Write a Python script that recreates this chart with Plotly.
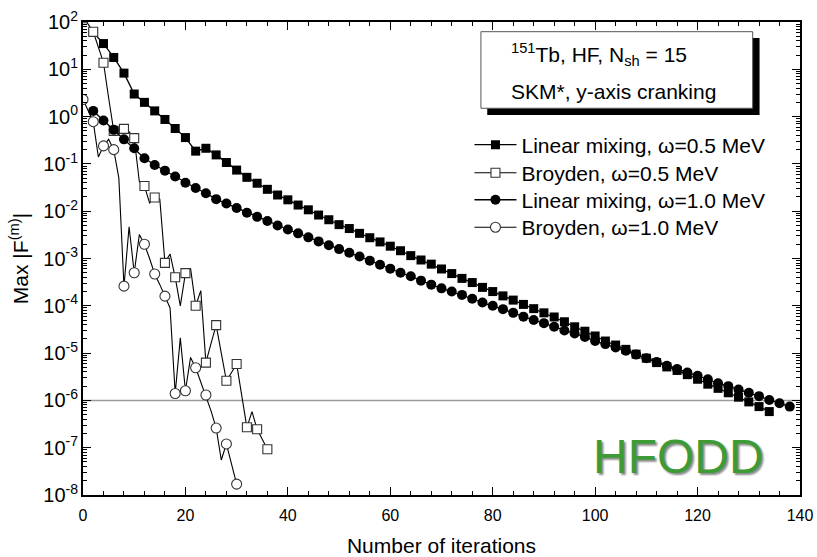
import plotly.graph_objects as go

# ---------------- data ----------------
lin05_iter = list(range(2, 135, 2))
lin05_val = [
    60, 35, 17.8, 8.3, 3.0, 2.0, 1.32, 0.87, 0.56, 0.36,
    0.186, 0.214, 0.155, 0.107, 0.074, 0.052, 0.039, 0.029, 0.022, 0.0174,
    0.0135, 0.0107, 0.0083, 0.0066, 0.0052, 0.0043, 0.0034, 0.00275, 0.00224, 0.00182,
    0.00146, 0.00115, 0.00093, 0.00076, 0.0006, 0.00048, 0.00038, 0.00031, 0.000245, 0.0002,
    0.000162, 0.000132, 0.000107, 8.7e-5, 7.1e-5, 5.8e-5, 4.6e-5, 3.6e-5, 2.9e-5, 2.3e-5,
    1.8e-5, 1.48e-5, 1.2e-5, 9.5e-6, 7.8e-6, 6.3e-6, 5.1e-6, 4.3e-6, 3.5e-6, 2.8e-6,
    2.2e-6, 1.8e-6, 1.45e-6, 1.17e-6, 9.3e-7, 7.4e-7, 5.8e-7,
]

lin10_iter = list(range(2, 139, 2))
lin10_val = [
    1.32, 0.83, 0.525, 0.33, 0.214, 0.132, 0.095, 0.072, 0.054, 0.040,
    0.031, 0.024, 0.018, 0.0145, 0.0117, 0.0093, 0.0076, 0.0062, 0.0050, 0.0041,
    0.0034, 0.0028, 0.0023, 0.0019, 0.00158, 0.00132, 0.0011, 0.0009, 0.00074, 0.00061,
    0.0005, 0.00042, 0.00034, 0.00028, 0.000234, 0.0002, 0.00017, 0.000141, 0.000117, 1.0e-4,
    8.5e-5, 7.1e-5, 5.9e-5, 5.0e-5, 4.3e-5, 3.6e-5, 3.0e-5, 2.6e-5, 2.2e-5, 1.8e-5,
    1.55e-5, 1.32e-5, 1.12e-5, 9.3e-6, 7.8e-6, 6.5e-6, 5.4e-6, 4.6e-6, 3.9e-6, 3.3e-6,
    2.8e-6, 2.3e-6, 2.0e-6, 1.7e-6, 1.45e-6, 1.23e-6, 1.02e-6, 8.7e-7, 7.4e-7,
]

broy05_iter = list(range(0, 37))
broy05_val = [
    120, 90, 62, 28, 13.8, 2.5, 0.5, 0.45, 0.55, 0.48,
    0.35, 0.042, 0.034, 0.015, 0.0195, 0.018, 8.1e-4, 1.25e-3, 4.0e-4, 1.0e-4,
    4.9e-4, 6.2e-4, 1.0e-4, 2.1e-4, 6.3e-6, 1.6e-5, 3.9e-5, 1.0e-5, 2.6e-6, 3.9e-6,
    5.9e-6, 1.26e-6, 2.7e-7, 5.8e-7, 2.45e-7, 1.5e-7, 9.3e-8,
]

broy10_iter = list(range(0, 31))
broy10_val = [
    2.3, 1.35, 0.78, 0.14, 0.24, 0.33, 0.20, 0.05, 2.6e-4, 4.7e-3,
    5.0e-4, 3.2e-3, 2.0e-3, 1.0e-3, 4.7e-4, 2.8e-4, 1.6e-4, 9e-5, 1.4e-6, 2.1e-5,
    1.6e-6, 8.1e-6, 4.9e-6, 2.5e-6, 1.3e-6, 6e-7, 2.6e-7, 5.5e-8, 1.2e-7, 4.5e-8,
    1.7e-8,
]

series_names = [
    "Linear mixing, \u03c9=0.5 MeV",
    "Broyden, \u03c9=0.5 MeV",
    "Linear mixing, \u03c9=1.0 MeV",
    "Broyden, \u03c9=1.0 MeV",
]

conv_threshold = 1e-6
y_exponents = [-8, -7, -6, -5, -4, -3, -2, -1, 0, 1, 2]

# ---------------- figure ----------------
FONT = "Liberation Sans, Arial, sans-serif"
fig = go.Figure()

# legend rows (one legend per row so the spacing can follow the reference)
legend_rows_y = [0.740, 0.6807, 0.6235, 0.5654]
legend_ids = ["legend", "legend2", "legend3", "legend4"]


def add_filled(it, val, sym, size, k):
    fig.add_trace(go.Scatter(
        x=it, y=val, mode="lines+markers", name=series_names[k],
        legend=legend_ids[k],
        line=dict(color="black", width=1.3),
        marker=dict(symbol=sym, size=size, color="black"),
    ))


def add_broyden(it, val, sym, size, k):
    fig.add_trace(go.Scatter(
        x=it, y=val, mode="lines", showlegend=False,
        line=dict(color="black", width=1.1),
    ))
    fig.add_trace(go.Scatter(
        x=it[::2], y=val[::2], mode="markers", showlegend=False,
        marker=dict(symbol=sym, size=size, color="white",
                    line=dict(color="#333333", width=1.1)),
    ))
    fig.add_trace(go.Scatter(
        x=[None], y=[None], mode="lines+markers", name=series_names[k],
        legend=legend_ids[k],
        line=dict(color="black", width=1.1),
        marker=dict(symbol=sym, size=size, color="white",
                    line=dict(color="#333333", width=1.1)),
    ))


add_filled(lin05_iter, lin05_val, "square", 9, 0)
add_broyden(broy05_iter, broy05_val, "square", 9, 1)
add_filled(lin10_iter, lin10_val, "circle", 10, 2)
add_broyden(broy10_iter, broy10_val, "circle", 10, 3)

# convergence threshold line
fig.add_shape(type="line", xref="x domain", yref="y", x0=0, x1=1,
              y0=conv_threshold, y1=conv_threshold,
              line=dict(color="#9a9a9a", width=1.5), layer="below")

# info box with drop shadow
fig.add_shape(type="rect", xref="paper", yref="paper",
              x0=0.5638, x1=0.9436, y0=0.8034, y1=0.9662,
              fillcolor="black", line=dict(width=0), layer="above")
fig.add_shape(type="rect", xref="paper", yref="paper",
              x0=0.555, x1=0.934, y0=0.8176, y1=0.9795,
              fillcolor="white", line=dict(color="#555555", width=1), layer="above")
fig.add_annotation(xref="paper", yref="paper", x=0.594, y=0.932,
                   xanchor="left", yanchor="middle", showarrow=False,
                   text="<sup>151</sup>Tb, HF, N<sub>sh</sub> = 15",
                   font=dict(family=FONT, size=21, color="black"))
fig.add_annotation(xref="paper", yref="paper", x=0.594, y=0.853,
                   xanchor="left", yanchor="middle", showarrow=False,
                   text="SKM*, y-axis cranking",
                   font=dict(family=FONT, size=21, color="black"))

# HFODD logo text
fig.add_annotation(xref="paper", yref="paper", x=0.830, y=0.081,
                   xanchor="center", yanchor="middle", showarrow=False,
                   text="HFODD",
                   font=dict(family=FONT, size=48, color="#3c9b35",
                             shadow="2px 2px 2px #8a8a8a"))

legend_common = dict(x=0.539, xanchor="left", yanchor="middle",
                     bgcolor="rgba(0,0,0,0)", borderwidth=0,
                     font=dict(family=FONT, size=21), itemwidth=42)

# y tick labels shown as 10^n for every decade
y_alias = {}
for e in y_exponents:
    if e == 0:
        key = "1"
    elif e == 1:
        key = "10"
    elif e < 0:
        key = "10<sup>\u2212%d</sup>" % (-e)
    else:
        key = "10<sup>%d</sup>" % e
    y_alias[key] = "10<sup>%d</sup>" % e

fig.update_layout(
    width=817, height=557,
    margin=dict(l=82.5, r=17, t=22, b=62, autoexpand=False),
    paper_bgcolor="white", plot_bgcolor="white",
    font=dict(family=FONT, color="black"),
    showlegend=True,
    legend=dict(y=legend_rows_y[0], **legend_common),
    legend2=dict(y=legend_rows_y[1], **legend_common),
    legend3=dict(y=legend_rows_y[2], **legend_common),
    legend4=dict(y=legend_rows_y[3], **legend_common),
    xaxis=dict(
        range=[0, 140], tickmode="linear", tick0=0, dtick=20,
        ticks="inside", ticklen=8, tickwidth=1.3, tickcolor="black",
        minor=dict(tickmode="linear", tick0=0, dtick=4, ticks="inside",
                   ticklen=4, tickwidth=1, tickcolor="black"),
        showline=True, linecolor="black", linewidth=1.5, mirror="ticks",
        showgrid=False, zeroline=False, ticklabelstandoff=5, automargin=False,
        tickfont=dict(family=FONT, size=16),
        title=dict(text="Number of iterations", font=dict(family=FONT, size=21),
                   standoff=16),
    ),
    yaxis=dict(
        type="log", range=[-8, 2], tickmode="linear", tick0=0, dtick=1,
        exponentformat="power", labelalias=y_alias, automargin=False,
        ticks="inside", ticklen=8, tickwidth=1.3, tickcolor="black",
        minor=dict(tickmode="linear", dtick="D1", ticks="inside",
                   ticklen=4, tickwidth=1, tickcolor="black"),
        showline=True, linecolor="black", linewidth=1.5, mirror="ticks",
        showgrid=False, zeroline=False,
        tickfont=dict(family=FONT, size=16),
        title=dict(text="Max |F<sup>(m)</sup>|", font=dict(family=FONT, size=21),
                   standoff=9),
    ),
)

fig.write_html("out.html")
